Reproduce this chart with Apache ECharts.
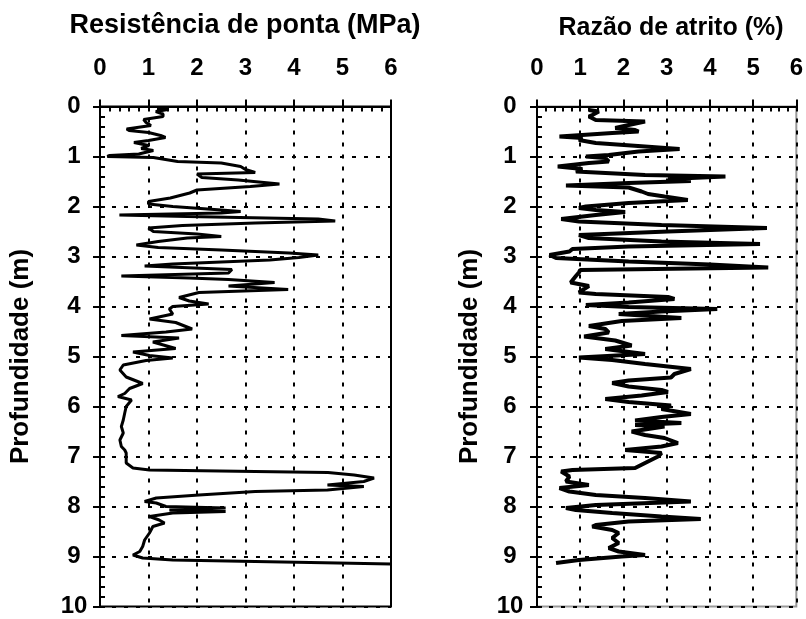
<!DOCTYPE html>
<html>
<head>
<meta charset="utf-8">
<script src="https://cdn.jsdelivr.net/npm/echarts@6/dist/echarts.min.js"></script>
<style>html,body{margin:0;padding:0;background:#fff}#c{width:806px;height:619px}</style>
</head>
<body>
<div id="c"></div>
<script>
// Tick labels
const xTicks = [0, 1, 2, 3, 4, 5, 6];
const depthTicks = [0, 1, 2, 3, 4, 5, 6, 7, 8, 9, 10];

// Resistência de ponta (MPa) vs profundidade (m)
const qcDepth = [0.03,0.06,0.10,0.15,0.20,0.26,0.32,0.38,0.45,0.48,0.52,0.58,0.62,0.68,0.72,0.78,0.84,0.88,0.95,0.98,1.00,1.02,1.06,1.10,1.13,1.20,1.26,1.32,1.35,1.42,1.47,1.55,1.60,1.67,1.73,1.83,1.90,1.95,2.00,2.07,2.10,2.13,2.17,2.20,2.25,2.29,2.33,2.38,2.43,2.50,2.55,2.60,2.63,2.70,2.77,2.82,2.87,2.93,2.97,3.02,3.07,3.15,3.19,3.26,3.33,3.39,3.43,3.46,3.52,3.59,3.66,3.72,3.82,3.89,3.95,4.00,4.05,4.15,4.25,4.32,4.45,4.51,4.58,4.63,4.71,4.84,4.91,4.98,5.03,5.08,5.17,5.27,5.41,5.54,5.64,5.74,5.80,5.87,6.00,6.13,6.27,6.40,6.53,6.67,6.80,6.87,6.93,7.13,7.23,7.27,7.30,7.32,7.37,7.43,7.50,7.57,7.60,7.67,7.70,7.77,7.83,7.90,7.93,8.00,8.03,8.07,8.10,8.13,8.20,8.27,8.33,8.40,8.53,8.67,8.80,8.90,8.97,9.03,9.07,9.10,9.13,9.15];
const qcValue = [1.2,1.4,1.15,1.3,1.3,0.9,0.95,1.05,0.55,0.6,1.0,1.25,1.35,1.0,0.7,1.0,0.85,1.1,0.8,0.2,0.15,1.1,1.35,1.6,2.5,2.9,3.0,3.2,2.0,2.1,2.85,3.7,3.1,2.0,1.85,1.45,1.0,1.0,1.5,2.5,2.9,2.5,0.4,1.8,4.5,4.85,3.2,1.7,1.0,1.1,2.0,2.5,1.8,1.2,0.75,1.2,2.5,3.9,4.5,4.1,3.5,1.5,0.92,2.72,2.65,0.44,1.84,2.65,3.6,2.65,3.88,2.04,1.63,1.84,2.24,1.5,1.43,1.5,1.02,1.56,1.9,1.36,0.44,1.63,1.09,1.56,0.68,1.02,1.5,0.95,0.48,0.41,0.54,0.88,0.61,0.51,0.37,0.65,0.54,0.51,0.48,0.44,0.48,0.41,0.44,0.51,0.54,0.54,0.68,1.02,3.2,4.7,5.24,5.65,5.44,4.69,5.44,4.69,3.2,2.04,1.16,0.92,1.16,1.36,2.59,1.43,2.59,1.5,1.02,1.22,1.33,1.09,1.02,0.92,0.88,0.82,0.68,0.88,1.5,3.2,4.9,6.0];

// Razão de atrito (%) vs profundidade (m)
const rfDepth = [0.07,0.10,0.17,0.20,0.27,0.30,0.37,0.43,0.47,0.50,0.53,0.60,0.63,0.67,0.73,0.80,0.85,0.90,0.97,1.00,1.03,1.10,1.13,1.20,1.25,1.30,1.37,1.40,1.45,1.49,1.53,1.58,1.62,1.70,1.75,1.80,1.87,1.93,2.00,2.03,2.07,2.11,2.17,2.25,2.30,2.37,2.43,2.50,2.57,2.63,2.70,2.75,2.80,2.85,2.90,2.97,3.03,3.10,3.16,3.22,3.27,3.32,3.39,3.52,3.59,3.65,3.72,3.75,3.81,3.85,3.92,3.97,4.01,4.05,4.10,4.15,4.23,4.29,4.39,4.45,4.52,4.60,4.68,4.78,4.85,4.95,5.02,5.07,5.15,5.20,5.25,5.35,5.42,5.48,5.53,5.60,5.67,5.71,5.78,5.85,5.91,5.98,6.05,6.15,6.21,6.28,6.33,6.37,6.40,6.50,6.57,6.63,6.73,6.80,6.87,6.93,7.00,7.13,7.23,7.27,7.30,7.40,7.50,7.57,7.63,7.70,7.77,7.83,7.90,7.97,8.03,8.07,8.13,8.20,8.25,8.30,8.37,8.40,8.47,8.53,8.63,8.73,8.83,8.90,8.97,9.00,9.07,9.13];
const rfValue = [1.2,1.43,1.28,1.2,1.36,2.5,2.12,1.81,2.27,2.35,1.74,0.52,1.05,0.97,1.36,2.5,3.3,2.35,1.66,1.13,1.58,1.66,1.2,0.48,1.05,0.9,2.5,4.36,3.03,3.56,2.12,0.67,2.12,2.42,2.57,2.95,3.49,2.12,1.13,0.97,1.36,2.04,1.36,0.56,0.97,2.88,5.32,3.03,0.97,1.2,2.88,5.16,2.12,0.82,0.75,0.29,0.44,2.12,4.0,5.35,1.0,0.97,0.9,0.78,1.2,1.09,0.97,1.36,3.03,3.18,2.12,1.13,2.12,4.17,2.88,1.89,3.34,1.96,1.2,1.58,1.66,1.09,1.81,2.19,1.58,2.5,0.97,1.74,2.5,3.03,3.56,3.18,3.1,2.12,1.74,2.12,2.88,3.03,2.42,1.58,2.12,3.1,2.88,3.56,2.88,2.27,3.34,2.27,2.95,2.19,2.5,2.95,3.26,2.88,2.04,2.88,2.8,2.5,2.27,0.82,0.56,0.75,0.67,1.2,0.52,0.75,1.36,2.5,3.56,1.36,0.67,0.9,1.74,2.88,3.79,2.12,1.36,1.28,1.74,1.89,1.74,1.89,1.66,1.89,2.5,1.96,0.97,0.44];

const FONT = 'Liberation Sans, Arial, sans-serif';
const pairs = (xs, ds) => xs.map((v, i) => [v, ds[i]]);

function axesFor(gi, labelMargin, nameGap) {
  const xMain = {
    gridIndex: gi, type: 'value', position: 'top', min: xTicks[0], max: xTicks[xTicks.length - 1], interval: 1,
    axisLine: { show: true, onZero: false, lineStyle: { color: '#000', width: 2 } },
    axisTick: { show: true, inside: false, length: 7, lineStyle: { color: '#000', width: 2 } },
    axisLabel: { show: true, color: '#000', fontSize: 24, fontWeight: 'bold', fontFamily: FONT, margin: 26 },
    splitLine: { show: true, lineStyle: { color: '#000', width: 2, type: [4, 8] } }
  };
  const xMinor = {
    gridIndex: gi, type: 'value', position: 'top', min: 0, max: 6, interval: 0.2,
    axisLine: { show: false, onZero: false },
    axisTick: { show: true, inside: true, length: 5, lineStyle: { color: '#000', width: 2 } },
    axisLabel: { show: false }, splitLine: { show: false }
  };
  const yMain = {
    gridIndex: gi, type: 'value', inverse: true, position: 'left', min: depthTicks[0], max: depthTicks[depthTicks.length - 1], interval: 1,
    name: 'Profundidade (m)', nameLocation: 'middle', nameRotate: 90, nameGap: nameGap,
    nameTextStyle: { color: '#000', fontSize: 26, fontWeight: 'bold', fontFamily: FONT },
    axisLine: { show: true, onZero: false, lineStyle: { color: '#000', width: 2 } },
    axisTick: { show: true, inside: false, length: 7, lineStyle: { color: '#000', width: 2 } },
    axisLabel: { show: true, color: '#000', fontSize: 24, fontWeight: 'bold', fontFamily: FONT, margin: labelMargin, align: 'center' },
    splitLine: { show: true, lineStyle: { color: '#000', width: 2, type: [4, 8] } }
  };
  const yMinor = {
    gridIndex: gi, type: 'value', inverse: true, position: 'left', min: 0, max: 10, interval: 0.2,
    axisLine: { show: false, onZero: false },
    axisTick: { show: true, inside: true, length: 5, lineStyle: { color: '#000', width: 2 } },
    axisLabel: { show: false }, splitLine: { show: false }
  };
  return { x: [xMain, xMinor], y: [yMain, yMinor] };
}

const a0 = axesFor(0, 26, 66);
const a1 = axesFor(1, 27, 54);

const chart = echarts.init(document.getElementById('c'));
chart.setOption({
  animation: false,
  backgroundColor: '#fff',
  title: [
    { text: 'Resistência de ponta (MPa)', left: 240, top: 7, textAlign: 'center',
      textStyle: { color: '#000', fontSize: 27, fontWeight: 'bold', fontFamily: FONT } },
    { text: 'Razão de atrito (%)', left: 666, top: 11, textAlign: 'center',
      textStyle: { color: '#000', fontSize: 25, fontWeight: 'bold', fontFamily: FONT } }
  ],
  grid: [
    { left: 100, width: 291, top: 106.5, height: 500, show: true, borderColor: '#000', borderWidth: 2, backgroundColor: 'transparent' },
    { left: 537, width: 263, top: 106.5, height: 500, show: true, borderColor: '#999', borderWidth: 2, backgroundColor: 'transparent' }
  ],
  xAxis: [...a0.x, ...a1.x],
  yAxis: [...a0.y, ...a1.y],
  series: [
    { type: 'line', xAxisIndex: 0, yAxisIndex: 0, data: pairs(qcValue, qcDepth), showSymbol: false,
      lineStyle: { color: '#000', width: 3 }, z: 5 },
    { type: 'line', xAxisIndex: 2, yAxisIndex: 2, data: pairs(rfValue, rfDepth), showSymbol: false,
      lineStyle: { color: '#000', width: 4 }, z: 5 }
  ]
});
</script>
</body>
</html>
